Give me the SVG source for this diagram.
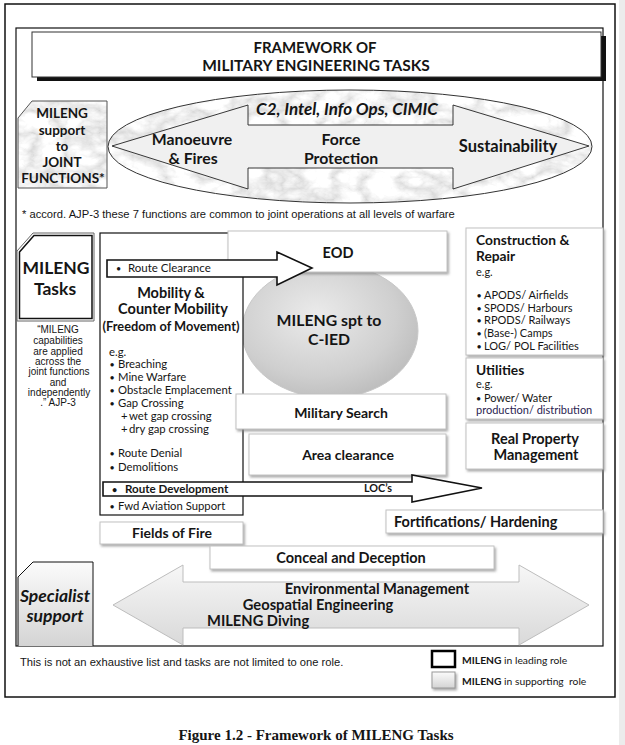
<svg xmlns="http://www.w3.org/2000/svg" width="625" height="745" viewBox="0 0 625 745">
<defs>
<style>
text{font-family:Lato,"Open Sans","Liberation Sans",sans-serif;fill:#151515}
.b{font-weight:bold}
.i{font-style:italic}
.m{text-anchor:middle}
.ar{font-family:"Liberation Sans",Arial,sans-serif}
.bu{font-size:9px}
.sup{fill:#fff;stroke:#c2c2c2;stroke-width:1;filter:url(#sh)}
.lead{fill:#fff;stroke:#111;stroke-width:1.2}
.arr{fill:#fff;stroke:#111;stroke-width:1.6;stroke-linejoin:miter}
</style>
<filter id="sh" x="-10%" y="-20%" width="125%" height="160%">
<feDropShadow dx="1.5" dy="2" stdDeviation="1.2" flood-color="#888" flood-opacity="0.7"/>
</filter>
<filter id="marble" x="0" y="0" width="100%" height="100%">
<feTurbulence type="turbulence" baseFrequency="0.03 0.045" numOctaves="4" seed="7" result="n"/>
<feColorMatrix in="n" type="matrix" values="0.7 0 0 0 0.68  0.7 0 0 0 0.68  0.7 0 0 0 0.68  0 0 0 0 1" result="g"/>
<feComposite in="g" in2="SourceGraphic" operator="in"/>
</filter>
<linearGradient id="lg" x1="0" y1="0" x2="0" y2="1">
<stop offset="0" stop-color="#fbfbfb"/><stop offset="1" stop-color="#d4d4d4"/>
</linearGradient>
<linearGradient id="lg2" x1="0" y1="0" x2="0" y2="1">
<stop offset="0" stop-color="#f7f7f7"/><stop offset="1" stop-color="#d9d9d9"/>
</linearGradient>
<radialGradient id="rg" cx="0.42" cy="0.38" r="0.65">
<stop offset="0" stop-color="#ebebeb"/><stop offset="0.7" stop-color="#cfcfcf"/><stop offset="1" stop-color="#bdbdbd"/>
</radialGradient>
</defs>

<rect x="0" y="0" width="625" height="745" fill="#fff"/>
<rect x="619" y="0" width="6" height="745" fill="#ececec"/>

<g id="frames">
<rect x="5" y="4" width="610" height="693" fill="none" stroke="#111" stroke-width="1.5"/>
<rect x="16" y="28" width="587" height="618" fill="none" stroke="#111" stroke-width="1.2"/>
</g>

<g id="title">
<rect x="37" y="36" width="569" height="45" fill="#111"/>
<rect x="32" y="32" width="569" height="45" fill="#fff" stroke="#333" stroke-width="1"/>
<text x="315" y="53" class="b m" font-size="15">FRAMEWORK OF</text>
<text x="316" y="71" class="b m" font-size="15.5">MILITARY ENGINEERING TASKS</text>
</g>

<g id="joint-support">
<path d="M18,118 L32,101 L107,101 L107,188 L18,188 Z" fill="#ccc" filter="url(#marble)"/>
<path d="M18,118 L32,101 L107,101 L107,188 L18,188 Z" fill="none" stroke="#555" stroke-width="1"/>
<text x="62" y="118" class="b m" font-size="13.5">MILENG</text>
<text x="62" y="135" class="b m" font-size="13.5">support</text>
<text x="62" y="151" class="b m" font-size="13.5">to</text>
<text x="62" y="167" class="b m" font-size="13.5">JOINT</text>
<text x="63" y="183" class="b m" font-size="13.5">FUNCTIONS*</text>
</g>

<g id="joint-functions">
<ellipse cx="350" cy="146.5" rx="242" ry="56.5" fill="#ccc" filter="url(#marble)"/>
<ellipse cx="350" cy="146.5" rx="242" ry="56.5" fill="none" stroke="#333" stroke-width="1"/>
<path d="M112,146 L248,105 L248,125 L453,125 L453,105 L589,146 L453,189 L453,168 L248,168 L248,189 Z" fill="#f0f0f0" stroke="#222" stroke-width="0.9"/>
<text x="347" y="115" class="b i m" font-size="17">C2, Intel, Info Ops, CIMIC</text>
<text x="192" y="145" class="b m" font-size="15.8">Manoeuvre</text>
<text x="193" y="164" class="b m" font-size="15.8">&amp; Fires</text>
<text x="341" y="145" class="b m" font-size="15.8">Force</text>
<text x="341" y="164" class="b m" font-size="15.8">Protection</text>
<text x="508" y="152" class="b m" font-size="16.5">Sustainability</text>
</g>

<text x="22" y="218" class="ar" font-size="11.2">* accord. AJP-3 these 7 functions are common to joint operations at all levels of warfare</text>

<g id="mileng-tasks">
<path d="M17,251 L33,233 L94,233 L94,321 L17,321 Z" fill="#fff" stroke="#666" stroke-width="1"/>
<path d="M19.5,252 L34,235.5 L92,235.5 L92,318.5 L19.5,318.5 Z" fill="none" stroke="#111" stroke-width="1.5"/>
<text x="56" y="274" class="b m" font-size="17.5">MILENG</text>
<text x="55" y="295" class="b m" font-size="17.5">Tasks</text>
<g class="ar" font-size="10">
<text x="58" y="333" class="ar m">“MILENG</text>
<text x="58" y="344" class="ar m">capabilities</text>
<text x="58" y="354.5" class="ar m">are applied</text>
<text x="58" y="365" class="ar m">across the</text>
<text x="59" y="375" class="ar m">joint functions</text>
<text x="58" y="385.5" class="ar m">and</text>
<text x="59" y="396" class="ar m">independently</text>
<text x="58" y="406" class="ar m">.” AJP-3</text>
</g>
</g>

<g id="cied">
<ellipse cx="330" cy="331" rx="88" ry="67" fill="url(#rg)" stroke="#c8c8c8" stroke-width="1"/>
<text x="329" y="326" class="b m" font-size="15.8">MILENG spt to</text>
<text x="329" y="345" class="b m" font-size="15.8">C-IED</text>
</g>

<g id="mobility">
<rect x="100" y="233" width="143" height="282" class="lead"/>
<text x="171" y="298" class="b m" font-size="14.5">Mobility &amp;</text>
<text x="173" y="314" class="b m" font-size="14.5">Counter Mobility</text>
<text x="171" y="331" class="b m" font-size="12.8">(Freedom of Movement)</text>
<g font-size="11.3">
<text x="109" y="356">e.g.</text>
<text x="109.5" y="368"><tspan class="bu">•</tspan><tspan x="118">Breaching</tspan></text>
<text x="109.5" y="381"><tspan class="bu">•</tspan><tspan x="118">Mine Warfare</tspan></text>
<text x="109.5" y="394"><tspan class="bu">•</tspan><tspan x="118">Obstacle Emplacement</tspan></text>
<text x="109.5" y="407"><tspan class="bu">•</tspan><tspan x="118">Gap Crossing</tspan></text>
<text x="121" y="420">+<tspan x="129">wet gap crossing</tspan></text>
<text x="121" y="433">+<tspan x="129">dry gap crossing</tspan></text>
<text x="109.5" y="457"><tspan class="bu">•</tspan><tspan x="118">Route Denial</tspan></text>
<text x="109.5" y="471"><tspan class="bu">•</tspan><tspan x="118">Demolitions</tspan></text>
<text x="109.5" y="510"><tspan class="bu">•</tspan><tspan x="118">Fwd Aviation Support</tspan></text>
</g>
</g>

<g id="eod">
<rect x="228" y="231" width="219" height="41" class="sup"/>
<text x="338" y="258" class="b m" font-size="14.5">EOD</text>
</g>

<g id="route-clearance">
<path d="M107,260 L277,260 L277,252 L312,268 L277,285 L277,277 L107,277 Z" class="arr"/>
<text x="116" y="272" font-size="11.5"><tspan class="bu">•</tspan><tspan x="128">Route Clearance</tspan></text>
</g>

<g id="military-search">
<rect x="236" y="394" width="210" height="35" class="sup"/>
<text x="341" y="418" class="b m" font-size="14">Military Search</text>
</g>

<g id="area-clearance">
<rect x="249" y="434" width="197" height="41" class="sup"/>
<text x="348" y="460" class="b m" font-size="14">Area clearance</text>
</g>

<g id="route-development">
<path d="M103,482 L412,482 L412,475 L482,488 L412,502 L412,496 L103,496 Z" class="arr" stroke-width="2"/>
<text x="112" y="493" class="b" font-size="11.6"><tspan class="bu">•</tspan><tspan x="125">Route Development</tspan></text>
<text x="364" y="492" class="b" font-size="10.8">LOC’s</text>
</g>

<g id="construction">
<rect x="466" y="228" width="137" height="127" class="sup"/>
<text x="476" y="245" class="b" font-size="13.8">Construction &amp;</text>
<text x="476" y="261" class="b" font-size="13.8">Repair</text>
<g font-size="11">
<text x="476" y="276">e.g.</text>
<text x="476.5" y="299"><tspan class="bu">•</tspan><tspan x="484">APODS/ Airfields</tspan></text>
<text x="476.5" y="312"><tspan class="bu">•</tspan><tspan x="484">SPODS/ Harbours</tspan></text>
<text x="476.5" y="324"><tspan class="bu">•</tspan><tspan x="484">RPODS/ Railways</tspan></text>
<text x="476.5" y="337"><tspan class="bu">•</tspan><tspan x="484">(Base-) Camps</tspan></text>
<text x="476.5" y="350"><tspan class="bu">•</tspan><tspan x="484">LOG/ POL Facilities</tspan></text>
</g>
</g>

<g id="utilities">
<rect x="466" y="358" width="137" height="61" class="sup"/>
<text x="476" y="375" class="b" font-size="13.8">Utilities</text>
<g font-size="11">
<text x="476" y="388">e.g.</text>
<text x="476" y="402"><tspan class="bu">•</tspan><tspan x="484">Power/ Water</tspan></text>
<text x="476" y="414" style="fill:#2a2350">production/ distribution</text>
</g>
</g>

<g id="real-property">
<rect x="466" y="423" width="137" height="46" class="sup"/>
<text x="535" y="444" class="b m" font-size="14.5">Real Property</text>
<text x="536" y="460" class="b m" font-size="14.5">Management</text>
</g>

<g id="fortifications">
<rect x="386" y="510" width="217" height="23" class="sup"/>
<text x="394" y="527" class="b" font-size="14.5">Fortifications/ Hardening</text>
</g>

<g id="fields-of-fire">
<rect x="100" y="522" width="143" height="22" class="sup"/>
<text x="172" y="538" class="b m" font-size="14">Fields of Fire</text>
</g>

<g id="conceal">
<rect x="210" y="546" width="284" height="23" class="sup"/>
<text x="351" y="563" class="b m" font-size="14.5">Conceal and Deception</text>
</g>

<g id="specialist-arrow">
<path d="M113,605 L183,565 L183,582 L519,582 L519,565 L589,605 L519,645 L519,628 L183,628 L183,645 Z" fill="url(#lg2)" stroke="#bdbdbd" stroke-width="1"/>
<text x="377" y="594" class="b m" font-size="14.7">Environmental Management</text>
<text x="318" y="610" class="b m" font-size="14.7">Geospatial Engineering</text>
<text x="207" y="626" class="b" font-size="14.7">MILENG Diving</text>
</g>

<g id="specialist-support">
<path d="M18,646 L18,577 L33,562 L93,562 L93,646" fill="url(#lg)" stroke="#111" stroke-width="1"/>
<text x="55" y="602" class="b i m" font-size="17.5">Specialist</text>
<text x="55" y="622" class="b i m" font-size="17.5">support</text>
</g>

<text x="20" y="666" class="ar" font-size="11.2">This is not an exhaustive list and tasks are not limited to one role.</text>

<g id="legend">
<rect x="432" y="651" width="23" height="16" fill="#fff" stroke="#000" stroke-width="2.5"/>
<rect x="432" y="672" width="23" height="16" fill="url(#lg)" stroke="#999" stroke-width="1" filter="url(#sh)"/>
<text x="462" y="664" font-size="10.3"><tspan class="b">MILENG</tspan> in leading role</text>
<text x="462" y="685" font-size="10.3" xml:space="preserve"><tspan class="b">MILENG</tspan> in supporting  role</text>
</g>

<text x="316" y="740" class="b m" style="font-family:'Liberation Serif','Times New Roman',serif" font-size="15">Figure 1.2 - Framework of MILENG Tasks</text>
</svg>
